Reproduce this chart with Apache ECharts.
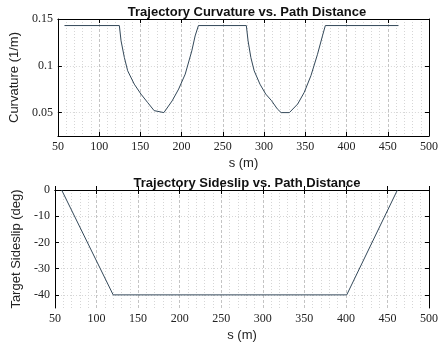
<!DOCTYPE html>
<html>
<head>
<meta charset="UTF-8">
<script src="https://cdn.jsdelivr.net/npm/echarts@6.0.0/dist/echarts.min.js"></script>
<style>
  html, body { margin: 0; padding: 0; background: #fff; }
  #chart { width: 447px; height: 344px; }
</style>
</head>
<body>
<div id="chart"></div>
<script>
// curvature vs path distance
const curvS = [58, 124.5, 126.6, 130.6, 134.6, 142.6, 150.7, 158.6, 166.7, 169, 178.5, 188.5, 196.4, 204.4, 212.4, 216.4, 220.4,
               278.5, 280.6, 284, 288, 295, 302, 309, 316, 320.7, 330.7, 340.8, 348.7, 356.8, 364.8, 370.8, 374.3, 463];
const curvK = [0.143, 0.143, 0.1266, 0.1088, 0.0947, 0.0804, 0.0698, 0.061, 0.0521, 0.05, 0.05, 0.0625, 0.0751, 0.0911, 0.116, 0.1319, 0.143,
               0.143, 0.1266, 0.1088, 0.0947, 0.0804, 0.0698, 0.0628, 0.054, 0.05, 0.05, 0.0592, 0.0716, 0.0894, 0.1123, 0.1319, 0.143, 0.143];

// sideslip vs path distance
const slipS = [58, 120, 401, 462];
const slipDeg = [0, -40, -40, 0];

const curvTicks = [0.05, 0.1, 0.15];
const slipTicks = [-40, -30, -20, -10, 0];

const lineColor = '#34495a';
const tickFont = { fontFamily: 'Liberation Serif', fontSize: 12, color: '#222' };
const nameFont = { fontFamily: 'Liberation Sans', fontSize: 13, color: '#222' };

const majorGrid = { show: true, lineStyle: { color: '#c4c4c4', type: [3, 2], width: 1 } };
const minorGrid = { show: true, lineStyle: { color: '#d6d6d6', type: [1, 2], width: 1 } };

function xAxisPair(gridIndex) {
    return [
        {
            gridIndex: gridIndex, type: 'value', min: 50, max: 500, interval: 50,
            name: 's (m)', nameLocation: 'middle', nameGap: 21, nameTextStyle: nameFont,
            axisLine: { show: true, lineStyle: { color: '#000' } },
            axisTick: { show: true, inside: true, length: 4, lineStyle: { color: '#000' } },
            axisLabel: Object.assign({ margin: 5 }, tickFont),
            splitLine: majorGrid,
            minorTick: { show: false, splitNumber: 5 },
            minorSplitLine: minorGrid
        },
        {
            gridIndex: gridIndex, type: 'value', position: 'top', min: 50, max: 500, interval: 50,
            axisLine: { show: true, lineStyle: { color: '#000' } },
            axisTick: { show: true, inside: true, length: 4, lineStyle: { color: '#000' } },
            axisLabel: { show: false },
            splitLine: { show: false }
        }
    ];
}

function yAxisPair(gridIndex, min, max, step, ticks, name, gap) {
    return [
        {
            gridIndex: gridIndex, type: 'value', min: min, max: max, interval: step,
            name: name, nameLocation: 'middle', nameGap: gap, nameTextStyle: nameFont,
            axisLine: { show: true, lineStyle: { color: '#000' } },
            axisTick: { show: true, inside: true, length: 4, customValues: ticks, lineStyle: { color: '#000' } },
            axisLabel: Object.assign({ margin: 5, customValues: ticks, formatter: v => String(v) }, tickFont),
            splitLine: minorGrid
        },
        {
            gridIndex: gridIndex, type: 'value', position: 'right', min: min, max: max, interval: step,
            axisLine: { show: true, lineStyle: { color: '#000' } },
            axisTick: { show: true, inside: true, length: 4, customValues: ticks, lineStyle: { color: '#000' } },
            axisLabel: { show: false },
            splitLine: { show: false }
        }
    ];
}

const chart = echarts.init(document.getElementById('chart'));

const option = {
    animation: false,
    backgroundColor: '#fff',
    title: [
        {
            text: 'Trajectory Curvature vs. Path Distance', left: 242, top: 1, textAlign: 'center',
            textStyle: { fontFamily: 'Liberation Sans', fontWeight: 'bold', fontSize: 13, color: '#111' }
        },
        {
            text: 'Trajectory Sideslip vs. Path Distance', left: 242, top: 172, textAlign: 'center',
            textStyle: { fontFamily: 'Liberation Sans', fontWeight: 'bold', fontSize: 13, color: '#111' }
        }
    ],
    grid: [
        { left: 55, right: 18, top: 19, height: 117 },
        { left: 55, right: 18, top: 190, height: 118 }
    ],
    xAxis: xAxisPair(0).concat(xAxisPair(1)),
    yAxis: yAxisPair(0, 0.025, 0.15, 0.0125, curvTicks, 'Curvature (1/m)', 28)
        .concat(yAxisPair(1, -45, 0, 5, slipTicks, 'Target Sideslip (deg)', 22)),
    series: [
        {
            type: 'line', xAxisIndex: 0, yAxisIndex: 0,
            data: curvS.map((s, i) => [s, curvK[i]]),
            showSymbol: false, lineStyle: { color: lineColor, width: 1 }
        },
        {
            type: 'line', xAxisIndex: 2, yAxisIndex: 2,
            data: slipS.map((s, i) => [s, slipDeg[i]]),
            showSymbol: false, lineStyle: { color: lineColor, width: 1 }
        }
    ]
};

chart.setOption(option);
</script>
</body>
</html>
